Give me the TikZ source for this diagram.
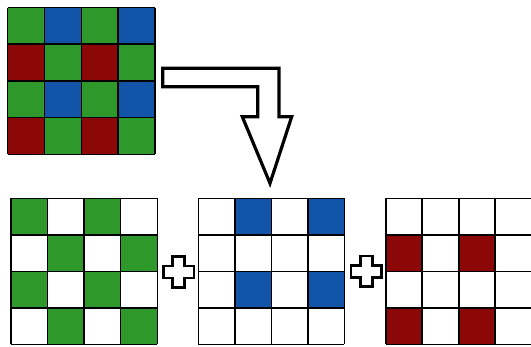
\documentclass[tikz,border=0pt]{standalone}
\begin{document}
\begin{tikzpicture}[x=1pt,y=-1pt,
  gridline/.style={draw=black,line width=1.6pt},
  outline/.style={draw=black,fill=white,line width=3.2pt,line join=miter},
  plusline/.style={draw=black,fill=white,line width=2.6pt,line join=miter}]
\definecolor{cG}{RGB}{46,152,42}
\definecolor{cB}{RGB}{18,84,168}
\definecolor{cR}{RGB}{140,8,8}
\definecolor{cW}{RGB}{255,255,255}
\useasboundingbox[fill=white] (0,0) rectangle (531,346);
% generic grid: #1 x0, #2 y0, #3 cell w, #4 cell h, #5 rows
\newcommand\mygrid[5]{%
  \foreach [count=\i from 0] \row in {#5} {%
    \foreach [count=\j from 0] \c in \row {%
      \fill[c\c] ({#1+\j*#3},{#2+\i*#4}) rectangle ++(#3,#4);
    }
  }
  \foreach \k in {0,...,4} {%
    \draw[gridline] ({#1+\k*#3},#2) -- ++(0,{4*#4});
    \draw[gridline] (#1,{#2+\k*#4}) -- ++({4*#3},0);
  }
}
% top mosaic
\mygrid{7.5}{7.5}{36.9}{36.7}{{G,B,G,B},{R,G,R,G},{G,B,G,B},{R,G,R,G}}
% green
\mygrid{10.7}{198.3}{36.65}{36.5}{{G,W,G,W},{W,G,W,G},{G,W,G,W},{W,G,W,G}}
% blue
\mygrid{198.3}{198.3}{36.5}{36.5}{{W,B,W,B},{W,W,W,W},{W,B,W,B},{W,W,W,W}}
% red
\mygrid{385.7}{198.3}{36.5}{36.5}{{W,W,W,W},{R,W,R,W},{W,W,W,W},{R,W,R,W}}
% bent arrow
\draw[outline] (162.7,68.3) -- (279,68.3) -- (279,116.7) -- (291.7,116.7)
  -- (270,183.3) -- (242.3,116.7) -- (257.7,116.7) -- (257.7,86.7)
  -- (162.7,86.7) -- cycle;
% plus signs
\foreach \cx/\cy in {178.6/272, 366.3/271.2} {
  \draw[plusline] (\cx-6,\cy-15.3) -- (\cx+6,\cy-15.3) -- (\cx+6,\cy-6)
    -- (\cx+15.3,\cy-6) -- (\cx+15.3,\cy+6) -- (\cx+6,\cy+6) -- (\cx+6,\cy+15.3)
    -- (\cx-6,\cy+15.3) -- (\cx-6,\cy+6) -- (\cx-15.3,\cy+6) -- (\cx-15.3,\cy-6)
    -- (\cx-6,\cy-6) -- cycle;
}
\end{tikzpicture}
\end{document}
